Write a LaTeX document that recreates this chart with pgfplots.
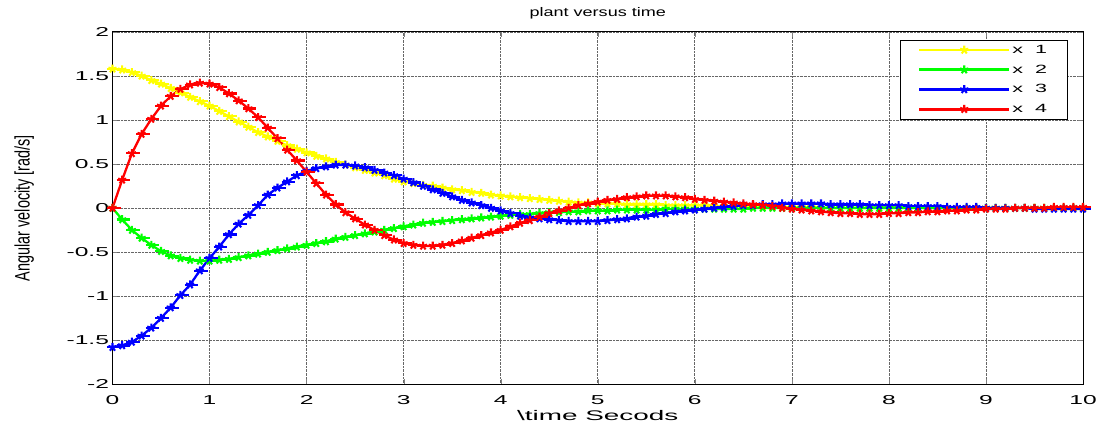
\documentclass[border=0pt]{standalone}
\usepackage{fontspec}
\setmainfont{Liberation Sans}
\newfontfamily\tickfont[FakeStretch=1.9]{Liberation Sans}
\newfontfamily\titlefont[FakeStretch=1.45]{Liberation Sans}
\newfontfamily\xlabfont[FakeStretch=2.0]{Liberation Sans}
\newfontfamily\legfont[FakeStretch=1.8]{Liberation Sans}
\usepackage{graphicx}
\usepackage{pgfplots}
\usepackage{pgfplotstable}
\pgfplotsset{compat=1.18}

% MATLAB-like star marker with a longer horizontal stroke
\pgfdeclareplotmark{mstar}{%
  \pgfuseplotmark{star}%
  \pgfpathmoveto{\pgfqpoint{-1.3\pgfplotmarksize}{0pt}}%
  \pgfpathlineto{\pgfqpoint{1.9\pgfplotmarksize}{0pt}}%
  \pgfusepathqstroke}

% t, x1, x2, x3, x4
\pgfplotstableread{
t x1 x2 x3 x4
0.0 1.58 0.00 -1.58 0.00
0.1 1.57 -0.13 -1.56 0.32
0.2 1.54 -0.25 -1.52 0.62
0.3 1.50 -0.34 -1.45 0.84
0.4 1.45 -0.42 -1.36 1.01
0.5 1.41 -0.49 -1.25 1.16
0.6 1.36 -0.54 -1.13 1.27
0.7 1.31 -0.57 -0.99 1.35
0.8 1.26 -0.59 -0.87 1.40
0.9 1.21 -0.60 -0.71 1.42
1.0 1.16 -0.60 -0.57 1.41
1.1 1.10 -0.59 -0.44 1.37
1.2 1.04 -0.58 -0.30 1.30
1.3 0.98 -0.56 -0.18 1.22
1.4 0.92 -0.54 -0.08 1.13
1.5 0.86 -0.52 0.03 1.03
1.6 0.81 -0.50 0.15 0.91
1.7 0.76 -0.48 0.23 0.79
1.8 0.71 -0.46 0.30 0.66
1.9 0.67 -0.44 0.37 0.54
2.0 0.63 -0.42 0.42 0.41
2.1 0.59 -0.40 0.45 0.28
2.2 0.56 -0.38 0.47 0.15
2.3 0.52 -0.35 0.49 0.04
2.4 0.49 -0.33 0.49 -0.05
2.5 0.46 -0.31 0.48 -0.12
2.6 0.43 -0.29 0.46 -0.19
2.7 0.40 -0.27 0.43 -0.25
2.8 0.37 -0.25 0.40 -0.31
2.9 0.33 -0.23 0.37 -0.36
3.0 0.30 -0.21 0.33 -0.40
3.1 0.28 -0.19 0.29 -0.42
3.2 0.26 -0.17 0.25 -0.43
3.3 0.25 -0.16 0.21 -0.43
3.4 0.23 -0.15 0.17 -0.42
3.5 0.21 -0.14 0.13 -0.40
3.6 0.20 -0.13 0.09 -0.37
3.7 0.18 -0.12 0.06 -0.34
3.8 0.17 -0.11 0.03 -0.31
3.9 0.15 -0.10 0.00 -0.28
4.0 0.14 -0.09 -0.03 -0.25
4.1 0.13 -0.08 -0.06 -0.21
4.2 0.12 -0.07 -0.09 -0.17
4.3 0.11 -0.07 -0.11 -0.14
4.4 0.10 -0.06 -0.12 -0.10
4.5 0.09 -0.05 -0.13 -0.06
4.6 0.08 -0.05 -0.14 -0.03
4.7 0.07 -0.04 -0.15 0.00
4.8 0.06 -0.04 -0.15 0.03
4.9 0.06 -0.03 -0.15 0.05
5.0 0.05 -0.03 -0.15 0.07
5.1 0.05 -0.03 -0.14 0.09
5.2 0.05 -0.02 -0.13 0.10
5.3 0.04 -0.02 -0.12 0.12
5.4 0.04 -0.02 -0.10 0.13
5.5 0.04 -0.02 -0.09 0.14
5.6 0.04 -0.02 -0.07 0.14
5.7 0.03 -0.01 -0.06 0.14
5.8 0.03 -0.01 -0.04 0.13
5.9 0.03 -0.01 -0.03 0.12
6.0 0.03 -0.01 -0.02 0.10
6.1 0.03 -0.01 -0.01 0.09
6.2 0.02 -0.01 0.00 0.08
6.3 0.02 -0.01 0.01 0.07
6.4 0.02 -0.01 0.02 0.06
6.5 0.02 -0.01 0.03 0.05
6.6 0.02 0.00 0.03 0.04
6.7 0.01 0.00 0.04 0.03
6.8 0.01 0.00 0.04 0.02
6.9 0.01 0.00 0.05 0.00
7.0 0.01 0.00 0.05 -0.01
7.1 0.01 0.00 0.05 -0.02
7.2 0.01 0.00 0.05 -0.03
7.3 0.00 0.00 0.05 -0.04
7.4 0.00 0.00 0.04 -0.05
7.5 0.00 0.00 0.04 -0.06
7.6 0.00 0.00 0.04 -0.06
7.7 0.00 0.00 0.04 -0.07
7.8 0.00 0.00 0.03 -0.07
7.9 0.00 0.00 0.03 -0.07
8.0 0.00 0.00 0.03 -0.06
8.1 0.00 0.00 0.03 -0.06
8.2 0.00 0.00 0.02 -0.05
8.3 0.00 0.00 0.02 -0.05
8.4 0.00 0.00 0.02 -0.04
8.5 0.00 0.00 0.02 -0.04
8.6 0.00 0.00 0.01 -0.03
8.7 0.00 0.00 0.01 -0.03
8.8 0.00 0.00 0.01 -0.02
8.9 0.00 0.00 0.01 -0.02
9.0 0.00 0.00 0.00 -0.01
9.1 0.00 0.00 0.00 -0.01
9.2 0.00 0.00 0.00 -0.01
9.3 0.00 0.00 0.00 0.00
9.4 0.00 0.00 0.00 0.00
9.5 0.00 0.00 -0.01 0.00
9.6 0.00 0.00 -0.01 0.00
9.7 0.00 0.00 -0.01 0.01
9.8 0.00 0.00 -0.01 0.01
9.9 0.00 0.00 -0.01 0.01
10.0 0.00 0.00 -0.01 0.01
}\plantdata

\begin{document}
\begin{tikzpicture}
\path (-113pt,-43pt) rectangle (990pt,386pt);
\begin{axis}[
    scale only axis,
    width=975pt,
    height=354pt,
    xmin=0, xmax=10,
    ymin=-2, ymax=2,
    xtick={0,1,...,10},
    ytick={-2,-1.5,...,2},
    yticklabel style={/pgf/number format/fixed},
    /pgf/number format/assume math mode=true,
    tick label style={font=\tickfont\fontsize{13}{14}\selectfont},
    xticklabel style={yshift=-8pt},
    tick align=inside,
    major tick length=5pt,
    axis line style={line width=0.9pt},
    grid=major,
    major grid style={densely dotted, draw=black!60, line width=0.7pt},
    title={plant versus time},
    title style={font=\titlefont\fontsize{12.5}{13}\selectfont, yshift=3pt},
    xlabel={\textbackslash time Secods},
    xlabel style={font=\xlabfont\fontsize{14}{15}\selectfont, yshift=1pt},
    ylabel={\scalebox{1}[1.45]{Angular velocity [rad/s]}},
    ylabel style={font=\fontsize{14.5}{15}\selectfont, yshift=26pt},
    every axis plot/.append style={line width=2.3pt, mark=mstar, mark size=4.3pt, mark options={line width=2.1pt}},
    legend cell align=left,
    legend style={at={(0.9836,0.977)}, anchor=north east, draw=black,
        font=\legfont\fontsize{12}{14}\selectfont, row sep=6pt,
        inner xsep=18pt, inner ysep=3pt},
    legend image code/.code={%
        \draw[#1, line width=2.6pt, mark=none] (0pt,0pt) -- (90pt,0pt);
        \draw[#1, line width=2.2pt, only marks] plot coordinates {(45pt,0pt)};},
]
\addplot[color={rgb,255:red,255;green,255;blue,0}] table[x=t, y=x1] {\plantdata};
\addlegendentry{x\ \ 1}
\addplot[color={rgb,255:red,0;green,255;blue,0}] table[x=t, y=x2] {\plantdata};
\addlegendentry{x\ \ 2}
\addplot[color={rgb,255:red,0;green,0;blue,255}] table[x=t, y=x3] {\plantdata};
\addlegendentry{x\ \ 3}
\addplot[color={rgb,255:red,255;green,0;blue,0}] table[x=t, y=x4] {\plantdata};
\addlegendentry{x\ \ 4}
\end{axis}
\end{tikzpicture}
\end{document}
